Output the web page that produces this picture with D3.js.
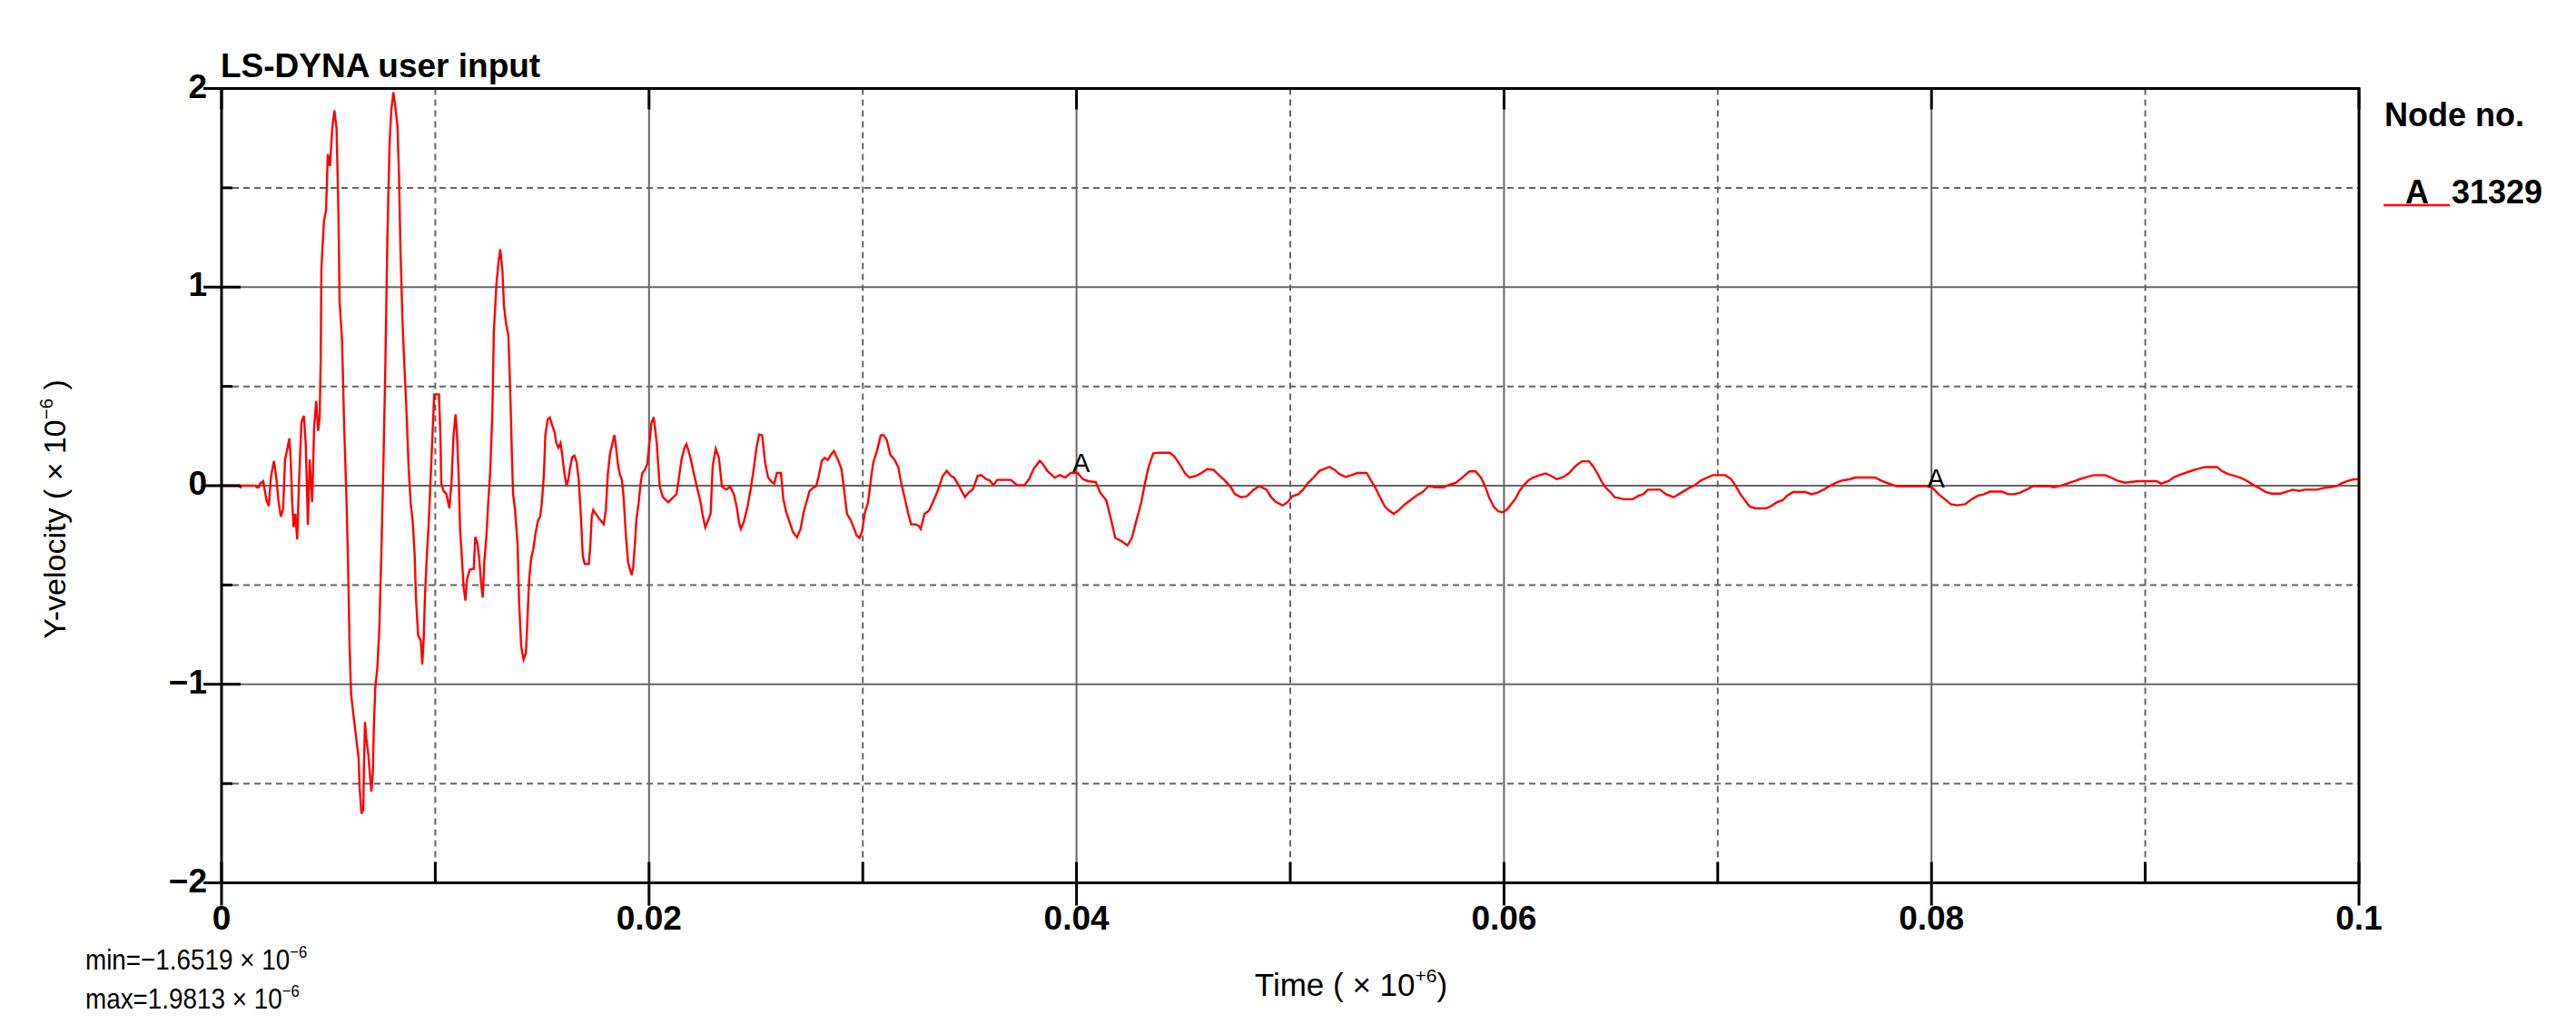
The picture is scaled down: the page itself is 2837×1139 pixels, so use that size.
<!DOCTYPE html>
<html><head><meta charset="utf-8">
<script src="https://cdn.jsdelivr.net/npm/d3@7"></script>
<style>
body{margin:0;background:#fff;}
svg{display:block;}
text{font-family:"Liberation Sans",Arial,Helvetica,sans-serif;fill:#000;}
</style>
</head><body>
<svg id="chart" width="2837" height="1139"></svg>
<script>
// ---------------- data ----------------
const time = [
0,0.0008,0.00089,0.00095,0.0016,0.00165,0.00174,0.0018,0.00195,0.0021,0.00221,0.00231,0.00245,0.00256,0.00266,0.00277,0.00288,0.00297,0.00309,0.00317,0.00323,0.0033,0.00337,0.00345,0.00354,0.00362,0.00374,0.00385,0.00394,0.00404,0.00412,0.00424,0.00433,0.00443,0.00452,0.00459,
0.00464,0.00467,0.00479,0.00489,0.00497,0.00507,0.00518,0.00528,0.00538,0.00547,0.00552,0.00564,0.00573,0.00585,0.00592,0.00599,0.00606,0.00617,0.0063,0.00641,0.00646,0.00655,0.00663,0.00666,0.00671,0.00677,0.00687,0.00694,0.00701,0.00708,0.00712,0.00719,0.00729,0.00738,0.00748,0.00757,0.00766,0.00776,0.00786,0.00794,0.00804,0.00814,0.00823,0.0083,0.00837,0.00847,0.00854,0.00864,0.00875,0.00885,0.00894,0.00903,0.0091,0.0092,0.00932,0.00939,0.00946,0.00952,0.0096,0.0097,0.00978,0.00988,0.00995,0.01017,0.01024,0.01028,0.01038,0.01052,0.01066,0.01076,0.01085,0.01095,0.01101,0.01109,0.01116,0.01126,0.01133,0.01141,0.01148,0.01161,0.0118,0.01187,0.01197,0.01205,0.01215,0.01222,0.01229,0.01239,0.01246,0.01257,0.01267,0.01274,0.01286,0.01296,0.01304,0.01314,0.01321,0.01331,0.01342,0.0135,0.01359,0.01364,0.01373,0.01385,0.01392,0.01402,0.01413,0.01424,0.0143,0.01439,0.01449,0.01458,0.0147,0.0148,0.01491,0.01498,0.01508,0.01515,0.01526,0.01536,0.01547,0.01558,0.01566,0.01576,0.01586,0.01594,0.01605,0.01614,0.01623,0.0163,0.0164,0.01651,0.01661,0.01671,0.01682,0.0169,0.01699,0.01718,0.01725,0.01732,0.01739,0.01753,0.0177,0.01788,0.01798,0.01807,0.01817,0.01827,0.01838,0.01845,0.01855,0.01864,0.01873,0.01881,0.01892,0.01902,0.01912,0.01919,0.01926,0.01934,0.01941,0.01951,0.01961,0.01968,0.0198,0.01992,
0.02011,0.02022,0.02036,0.0205,0.02065,0.0209,0.02114,0.02128,0.02138,0.02152,0.02164,0.02175,0.02192,0.02209,0.02227,0.02242,0.02251,0.02263,0.02277,0.02288,0.02298,0.02312,0.02327,0.02341,0.02362,0.02379,0.02397,0.02411,0.02421,0.0243,0.02444,0.02461,0.02475,0.02489,0.02503,0.02515,0.02529,0.02543,0.02557,0.02574,0.02586,0.02598,0.02617,0.02628,0.02642,0.02659,0.02673,0.02692,0.02709,0.02723,0.02737,0.02751,0.02766,0.02782,0.02794,0.02808,0.02822,0.02836,0.0285,0.02865,0.02886,0.029,0.02914,0.02926,0.02943,0.0296,0.02971,0.02985,0.02996,0.0301,0.03024,0.03039,0.03049,0.03067,0.03084,0.03098,0.03112,0.03129,0.03148,0.03166,0.0318,0.03197,0.03211,0.03226,0.03247,0.03261,0.03271,0.03289,0.0331,0.03332,0.0335,0.03374,0.03393,0.03412,0.03427,0.03452,0.03478,0.03495,0.03516,0.03537,0.03554,0.03577,0.03594,0.03611,0.03629,0.0365,0.03693,0.03721,0.03757,0.03778,0.03799,0.03828,0.03842,0.03863,0.03898,0.03922,0.03947,0.03973,0.04005,
0.0403,0.04054,0.0409,0.04111,0.04139,0.0416,0.04181,0.0421,0.04238,0.04259,0.04281,0.04302,0.0432,0.04337,0.04359,0.0438,0.04436,0.04457,0.04486,0.04507,0.04528,0.04557,0.04585,0.04613,0.04642,0.04663,0.04691,0.0472,0.04741,0.04769,0.04797,0.04826,0.04854,0.04889,0.04911,0.04932,0.04965,0.04989,0.0501,0.05038,0.0506,0.05081,0.05109,0.05137,0.05158,0.05184,0.05208,0.05229,0.05258,0.05286,0.05314,0.05357,0.05378,0.05399,0.0542,0.05442,0.05463,0.05484,0.05505,0.05534,0.05562,0.0559,0.05619,0.05647,0.05675,0.05718,0.05739,0.05774,0.05796,0.05824,0.05838,0.05867,0.05892,0.05912,0.0593,0.05951,0.05973,0.05994,0.06015,
0.06037,0.06054,0.06072,0.06093,0.06114,0.06136,0.06164,0.06195,0.06221,0.06246,0.06277,0.06305,0.06334,0.06365,0.06398,0.06419,0.0644,0.06454,0.06475,0.06497,0.06518,0.0656,0.06603,0.06631,0.06652,0.06673,0.0673,0.06758,0.06794,0.0683,0.06865,0.06893,0.06921,0.0695,0.06978,0.07035,0.07063,0.07084,0.07106,0.07127,0.07148,0.07176,0.07226,0.07247,0.07276,0.07304,0.07325,0.07353,0.0741,0.07438,0.07467,0.07495,0.07523,0.07552,0.0758,0.07616,0.07644,0.07736,0.07764,0.07799,0.07835,0.07984,0.08005,
0.08033,0.08062,0.0809,0.08121,0.08158,0.08189,0.08218,0.08246,0.08274,0.0833,0.08359,0.08387,0.08415,0.08444,0.08475,0.0855,0.08571,0.08599,0.08635,0.08663,0.08691,0.08727,0.08762,0.08812,0.0884,0.08868,0.08904,0.08967,0.09052,0.09074,0.09109,0.09137,0.09173,0.09208,0.09244,0.09279,0.09336,0.09357,0.09386,0.09421,0.09449,0.09478,0.09506,0.09534,0.09563,0.09591,0.09634,0.09662,0.0969,0.09719,0.09747,0.09804,0.09832,0.09861,0.09896,0.09917,0.09946,0.09974,0.1
];
const velocity = [
0,0,-0.008,0,0,-0.008,-0.008,0.01,0.023,-0.073,-0.103,0.044,0.124,0.041,-0.073,-0.156,-0.118,0.132,0.192,0.238,0.147,-0.073,-0.209,-0.141,-0.27,0.011,0.321,0.352,0.208,-0.198,0.132,-0.083,0.291,0.427,0.276,0.344,
0.635,1.09,1.33,1.39,1.67,1.61,1.80,1.89,1.80,1.365,0.93,0.726,0.323,-0.09,-0.402,-0.811,-1.05,-1.155,-1.27,-1.37,-1.524,-1.6519,-1.63,-1.428,-1.19,-1.27,-1.356,-1.452,-1.54,-1.44,-1.236,-1.02,-0.915,-0.723,-0.322,0.095,0.59,1.26,1.72,1.89,1.9813,1.90,1.81,1.57,1.19,0.817,0.635,0.406,0.095,-0.09,-0.178,-0.338,-0.578,-0.755,-0.779,-0.9,-0.763,-0.546,-0.362,-0.17,0.03,0.287,0.46,0.46,0.255,0.014,-0.026,-0.042,-0.114,0.022,0.247,0.359,0.27,0.055,-0.218,-0.394,-0.514,-0.579,-0.474,-0.423,-0.418,-0.258,-0.29,-0.362,-0.498,-0.563,-0.386,-0.258,-0.114,0.071,0.367,0.779,1.015,1.13,1.19,1.084,0.909,0.817,0.756,0.498,0.132,-0.042,-0.122,-0.298,-0.587,-0.811,-0.875,-0.843,-0.699,-0.474,-0.362,-0.322,-0.234,-0.178,-0.154,-0.09,0.055,0.255,0.335,0.343,0.303,0.271,0.215,0.191,0.215,0.151,0.055,-0.002,0.038,0.087,0.143,0.151,0.119,0.03,-0.17,-0.354,-0.394,-0.394,-0.306,-0.154,-0.122,-0.146,-0.17,-0.194,-0.122,0.055,0.159,0.207,0.255,0.199,0.103,0.055,0.03,-0.058,-0.258,-0.386,-0.426,-0.45,-0.41,-0.29,-0.17,-0.09,0.014,0.063,0.079,0.11,
0.315,0.345,0.216,-0.005,-0.058,-0.084,-0.058,-0.043,0.026,0.132,0.186,0.209,0.148,0.064,-0.02,-0.088,-0.149,-0.21,-0.172,-0.142,0.102,0.186,0.14,-0.005,-0.02,-0.005,-0.043,-0.111,-0.187,-0.218,-0.18,-0.104,-0.02,0.079,0.193,0.257,0.254,0.117,0.041,0.018,0.011,0.064,0.064,-0.065,-0.134,-0.187,-0.233,-0.26,-0.218,-0.134,-0.081,-0.027,-0.012,-0.002,0.049,0.125,0.14,0.129,0.155,0.175,0.125,0.084,-0.035,-0.142,-0.172,-0.218,-0.251,-0.263,-0.233,-0.134,-0.088,0.041,0.117,0.178,0.254,0.254,0.231,0.155,0.132,0.094,0.011,-0.065,-0.134,-0.195,-0.195,-0.202,-0.218,-0.142,-0.126,-0.073,-0.027,0.049,0.075,0.049,0.041,-0.005,-0.058,-0.035,-0.017,0.049,0.053,0.033,0.026,0.003,0.029,0.029,0.029,0.003,0.003,0.033,0.084,0.125,0.11,0.075,0.041,0.053,0.041,0.064,0.064,
0.033,0.023,0.018,-0.035,-0.073,-0.164,-0.263,-0.279,-0.301,-0.263,-0.172,-0.088,0.011,0.094,0.163,0.166,0.166,0.148,0.102,0.064,0.041,0.049,0.064,0.084,0.079,0.056,0.029,-0.005,-0.043,-0.058,-0.053,-0.023,-0.002,-0.02,-0.058,-0.081,-0.1,-0.081,-0.053,-0.043,-0.02,0.011,0.041,0.075,0.084,0.094,0.079,0.059,0.044,0.053,0.064,0.064,0.026,-0.012,-0.058,-0.104,-0.126,-0.142,-0.126,-0.096,-0.073,-0.05,-0.032,-0.002,-0.008,-0.008,0.003,0.014,0.033,0.059,0.072,0.072,0.041,-0.005,-0.058,-0.104,-0.129,-0.134,-0.119,
-0.088,-0.065,-0.027,0.003,0.026,0.041,0.052,0.062,0.049,0.033,0.044,0.064,0.099,0.123,0.123,0.094,0.056,0.026,-0.008,-0.032,-0.058,-0.068,-0.068,-0.05,-0.043,-0.02,-0.02,-0.043,-0.058,-0.035,-0.012,0.003,0.026,0.041,0.053,0.053,0.033,-0.002,-0.043,-0.073,-0.104,-0.114,-0.114,-0.104,-0.084,-0.073,-0.05,-0.032,-0.032,-0.043,-0.035,-0.02,-0.002,0.014,0.026,0.032,0.041,0.041,0.026,0.011,-0.002,-0.002,-0.012,
-0.043,-0.068,-0.093,-0.099,-0.093,-0.068,-0.05,-0.043,-0.03,-0.03,-0.043,-0.043,-0.035,-0.02,-0.002,-0.002,-0.008,-0.002,0.011,0.021,0.032,0.044,0.053,0.053,0.041,0.026,0.015,0.023,0.023,0.011,0.023,0.044,0.059,0.072,0.084,0.094,0.094,0.075,0.059,0.049,0.038,0.023,0.003,-0.012,-0.032,-0.04,-0.04,-0.03,-0.02,-0.026,-0.02,-0.02,-0.012,-0.008,-0.002,0.011,0.023,0.032,0.032
];
const xMajorTicks = [0, 0.02, 0.04, 0.06, 0.08, 0.1];
const xTickLabels = ["0", "0.02", "0.04", "0.06", "0.08", "0.1"];
const xMinorTicks = [0.01, 0.03, 0.05, 0.07, 0.09];
const yMajorTicks = [-2, -1, 0, 1, 2];
const yTickLabels = ["\u22122", "\u22121", "0", "1", "2"];
const yMinorTicks = [-1.5, -0.5, 0.5, 1.5];
const markerTimes = [0.04, 0.08];
const markerLabel = "A";
const nodeIds = ["31329"];
const minText = "min=\u22121.6519 \u00d7 10";
const maxText = "max=1.9813 \u00d7 10";

// ---------------- drawing ----------------
const svg = d3.select("#chart");
const L = 244, R = 2598, T = 97.5, B = 972.5;
const x = d3.scaleLinear().domain([0, 0.1]).range([L, R]);
const y = d3.scaleLinear().domain([-2, 2]).range([B, T]);
const grid = "#666666";

// minor dashed gridlines
svg.append("g").selectAll("line").data(xMinorTicks).join("line")
  .attr("x1", d => x(d)).attr("x2", d => x(d)).attr("y1", T).attr("y2", B)
  .attr("stroke", grid).attr("stroke-width", 2).attr("stroke-dasharray", "7,5");
svg.append("g").selectAll("line").data(yMinorTicks).join("line")
  .attr("x1", L).attr("x2", R).attr("y1", d => y(d)).attr("y2", d => y(d))
  .attr("stroke", grid).attr("stroke-width", 2).attr("stroke-dasharray", "7,5");
// major solid gridlines
svg.append("g").selectAll("line").data(xMajorTicks.slice(1, -1)).join("line")
  .attr("x1", d => x(d)).attr("x2", d => x(d)).attr("y1", T).attr("y2", B)
  .attr("stroke", grid).attr("stroke-width", 2);
svg.append("g").selectAll("line").data(yMajorTicks.slice(1, -1)).join("line")
  .attr("x1", L).attr("x2", R).attr("y1", d => y(d)).attr("y2", d => y(d))
  .attr("stroke", grid).attr("stroke-width", 2);

// curve
const pts = time.map((t, i) => [t, velocity[i]]);
svg.append("defs").append("clipPath").attr("id", "clip")
  .append("rect").attr("x", L).attr("y", T - 2).attr("width", R - L).attr("height", B - T + 4);
svg.append("path").datum(pts)
  .attr("clip-path", "url(#clip)")
  .attr("d", d3.line().x(d => x(d[0])).y(d => y(d[1])))
  .attr("fill", "none").attr("stroke", "#ff0000").attr("stroke-width", 2.4)
  .attr("stroke-linejoin", "miter");

// frame
svg.append("rect").attr("x", L).attr("y", T).attr("width", R - L).attr("height", B - T)
  .attr("fill", "none").attr("stroke", "#000").attr("stroke-width", 3);

// ticks
const tk = svg.append("g").attr("stroke", "#000").attr("stroke-width", 3);
tk.selectAll(".yM").data(yMajorTicks).join("line").attr("class", "yM")
  .attr("x1", L - 20).attr("x2", L + 21).attr("y1", d => y(d)).attr("y2", d => y(d));
tk.selectAll(".ym").data(yMinorTicks).join("line").attr("class", "ym")
  .attr("x1", L).attr("x2", L + 12).attr("y1", d => y(d)).attr("y2", d => y(d));
tk.selectAll(".xM").data(xMajorTicks).join("line").attr("class", "xM")
  .attr("x1", d => x(d)).attr("x2", d => x(d)).attr("y1", B - 23).attr("y2", B + 25);
tk.selectAll(".xm").data(xMinorTicks).join("line").attr("class", "xm")
  .attr("x1", d => x(d)).attr("x2", d => x(d)).attr("y1", B - 23).attr("y2", B);
tk.selectAll(".xT").data(xMajorTicks).join("line").attr("class", "xT")
  .attr("x1", d => x(d)).attr("x2", d => x(d)).attr("y1", T).attr("y2", T + 23);

// tick labels
svg.append("g").selectAll("text").data(xMajorTicks).join("text")
  .attr("x", d => x(d)).attr("y", B + 51)
  .attr("text-anchor", "middle").attr("font-size", 37).attr("font-weight", "bold")
  .text((d, i) => xTickLabels[i]);
svg.append("g").selectAll("text").data(yMajorTicks).join("text")
  .attr("x", L - 16).attr("y", d => y(d) + 10)
  .attr("text-anchor", "end").attr("font-size", 37).attr("font-weight", "bold")
  .text((d, i) => yTickLabels[i]);

// title
svg.append("text").attr("x", 243).attr("y", 85)
  .attr("font-size", 37).attr("font-weight", "bold").text("LS-DYNA user input");

// axis titles with superscripts
function supText(sel, base, sup, tail, size) {
  sel.append("tspan").text(base);
  sel.append("tspan").attr("font-size", size * 0.6).attr("dy", -size * 0.42).text(sup);
  if (tail !== null) sel.append("tspan").attr("dy", size * 0.42).text(tail);
}
const xt = svg.append("text").attr("x", 1488).attr("y", 1097)
  .attr("text-anchor", "middle").attr("font-size", 35);
supText(xt, "Time ( \u00d7 10", "+6", ")", 35);

const yt = svg.append("text").attr("transform", "translate(72,561) rotate(-90)")
  .attr("text-anchor", "middle").attr("font-size", 34);
supText(yt, "Y-velocity ( \u00d7 10", "\u22126", " )", 34);

const mn = svg.append("text").attr("transform", "translate(94,1068) scale(0.87,1)").attr("font-size", 32);
supText(mn, minText, "\u22126", null, 32);
const mx = svg.append("text").attr("transform", "translate(94,1111) scale(0.87,1)").attr("font-size", 32);
supText(mx, maxText, "\u22126", null, 32);

// curve markers
const bis = d3.bisector(d => d).left;
svg.append("g").selectAll("text").data(markerTimes).join("text")
  .attr("x", d => x(d) + 5)
  .attr("y", d => { const i = Math.min(bis(time, d), time.length - 1); return y(velocity[i]) - 1; })
  .attr("text-anchor", "middle").attr("font-size", 29)
  .text(markerLabel);

// legend
svg.append("text").attr("x", 2626).attr("y", 139)
  .attr("font-size", 36).attr("font-weight", "bold").text("Node no.");
const lg = svg.append("g").selectAll("g").data(nodeIds).join("g")
  .attr("transform", (d, i) => `translate(0,${i * 60})`);
lg.append("line").attr("x1", 2625).attr("x2", 2698).attr("y1", 226).attr("y2", 226)
  .attr("stroke", "#ff0000").attr("stroke-width", 2.3);
lg.append("text").attr("x", 2662).attr("y", 224).attr("text-anchor", "middle")
  .attr("font-size", 36).attr("font-weight", "bold").text(markerLabel);
lg.append("text").attr("x", 2700).attr("y", 224)
  .attr("font-size", 36).attr("font-weight", "bold").text(d => d);
</script>
</body></html>
